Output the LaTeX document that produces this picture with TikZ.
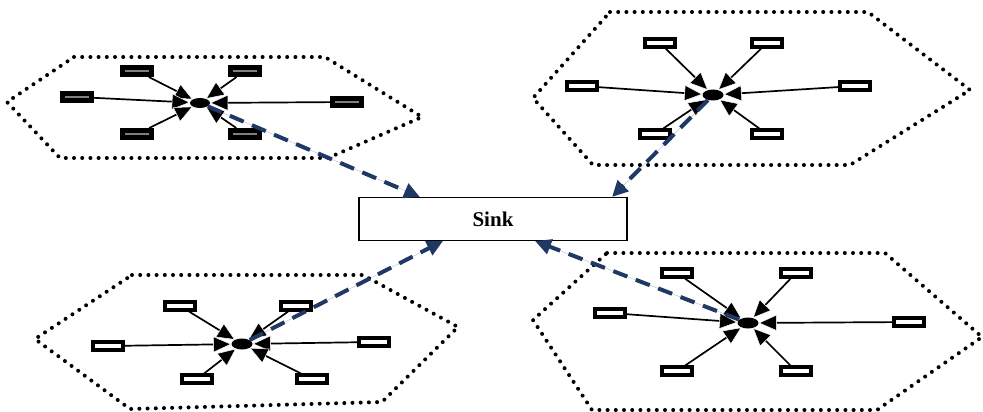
\documentclass[tikz,border=0pt]{standalone}
\usepackage{fontspec}
\setmainfont{Liberation Serif}
\usetikzlibrary{arrows.meta,shapes.geometric}
\definecolor{linkblue}{RGB}{31,56,100}
\begin{document}
\begin{tikzpicture}[x=1pt,y=-1pt,
  sensor/.style={draw=black,line width=3.8pt,fill=white,minimum width=30pt,minimum height=7.5pt,inner sep=0pt},
  sensordark/.style={sensor,line width=5pt,fill=gray,minimum width=29pt,minimum height=7pt},
  hub/.style={ellipse,fill=black,minimum width=21pt,minimum height=11pt,inner sep=0pt},
  feed/.style={-{Triangle[length=18pt,width=16pt,fill=black,color=white,line width=0.5pt]},line width=1.7pt},
  uplink/.style={-{Triangle[length=16pt,width=15pt]},draw=linkblue,fill=linkblue,line width=4pt,dash pattern=on 15pt off 9pt},
  zone/.style={line width=4pt,dash pattern=on 0pt off 8.2pt,line cap=round},
  sinkbox/.style={draw=black,line width=1.4pt,fill=white,minimum width=268pt,minimum height=43pt,font=\bfseries\fontsize{21}{21}\selectfont}
]
\useasboundingbox (0,0) rectangle (983,412);

% cluster zones
\draw[zone] (74,57) -- (325,57) -- (422,117) -- (328,158) -- (60,158) -- (7,102) -- cycle;
\draw[zone] (610,12) -- (868,12) -- (970,90) -- (850,165) -- (593,165) -- (533,98) -- cycle;
\draw[zone] (132,275) -- (363,275) -- (458,327) -- (382,402) -- (130,409) -- (35,339) -- cycle;
\draw[zone] (607,253) -- (885,253) -- (982,337) -- (877,410) -- (592,410) -- (533,320) -- cycle;

% sink
\node[sinkbox] (sink) at (493,219) {Sink};

% cluster A (upper left)
\node[hub,minimum width=20pt,minimum height=10pt] (hA) at (200,103) {};
\node[sensordark] (a1) at (137,71) {};
\node[sensordark] (a2) at (245,71) {};
\node[sensordark] (a3) at (77,97) {};
\node[sensordark] (a4) at (347,102) {};
\node[sensordark] (a5) at (137,134) {};
\node[sensordark] (a6) at (245,134) {};
\foreach \s in {a1,a2,a3,a4,a5,a6} \draw[feed] (\s) -- (hA);

% cluster B (upper right)
\node[hub] (hB) at (713,95) {};
\node[sensor] (b1) at (660,43) {};
\node[sensor] (b2) at (767,43) {};
\node[sensor] (b3) at (582,86) {};
\node[sensor] (b4) at (855,86) {};
\node[sensor] (b5) at (655,134) {};
\node[sensor] (b6) at (767,134) {};
\foreach \s in {b1,b2,b3,b4,b5,b6} \draw[feed] (\s) -- (hB);

% cluster C (lower left)
\node[hub] (hC) at (242,344) {};
\node[sensor] (c1) at (180,306) {};
\node[sensor] (c2) at (296,306) {};
\node[sensor] (c3) at (108,346) {};
\node[sensor] (c4) at (374,342) {};
\node[sensor] (c5) at (197,379) {};
\node[sensor] (c6) at (312,379) {};
\foreach \s in {c1,c2,c3,c4,c5,c6} \draw[feed] (\s) -- (hC);

% cluster D (lower right)
\node[hub] (hD) at (748,323) {};
\node[sensor] (d1) at (677,273) {};
\node[sensor] (d2) at (796,273) {};
\node[sensor] (d3) at (610,313) {};
\node[sensor] (d4) at (909,322) {};
\node[sensor] (d5) at (677,371) {};
\node[sensor] (d6) at (796,371) {};
\foreach \s in {d1,d2,d3,d4,d5,d6} \draw[feed] (\s) -- (hD);

% links from cluster heads to the sink
\coordinate (tA) at (420,197);
\coordinate (tB) at (612,197);
\coordinate (tC) at (443,241);
\coordinate (tD) at (535,241);
\draw[uplink] (hA) -- (tA);
\draw[uplink] (hB) -- (tB);
\draw[uplink] (hC) -- (tC);
\draw[uplink] (hD) -- (tD);
\end{tikzpicture}
\end{document}
